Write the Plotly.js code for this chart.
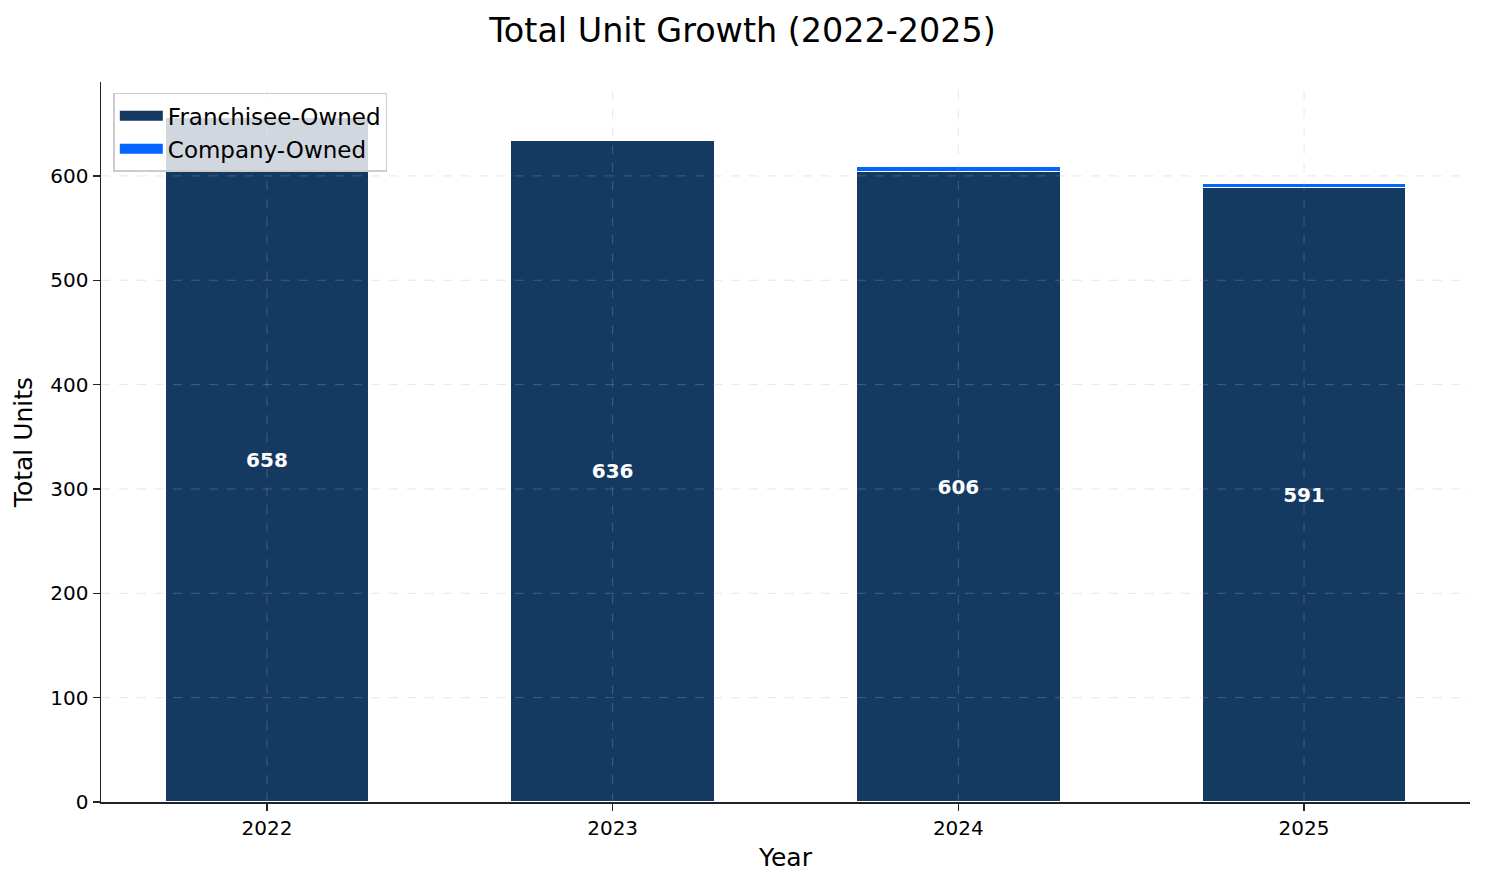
<!DOCTYPE html>
<html>
<head>
<meta charset="utf-8">
<script src="https://cdn.plot.ly/plotly-3.0.1.min.js"></script>
<style>
  html, body { margin: 0; padding: 0; background: #fff; }
  #chart { width: 1485px; height: 884px; }
</style>
</head>
<body>
<div id="chart"></div>
<script>
// values
const years = ['2022', '2023', '2024', '2025'];
const franchiseeOwned = [656, 634, 604, 589];
const companyOwned = [0, 0, 5, 4];
const totalLabels = ['658', '636', '606', '591'];
const yTicks = [0, 100, 200, 300, 400, 500, 600];

const navy = '#153a62';
const blue = '#0066ff';
const font = 'DejaVu Sans, sans-serif';
const gridColor = 'rgba(175,175,175,0.3)';

const barBase = {
  type: 'bar',
  x: years,
  width: 0.59,
  hoverinfo: 'skip',
  showlegend: false,
};

const traces = [
  {
    ...barBase,
    name: 'Franchisee-Owned',
    y: franchiseeOwned,
    marker: { color: navy, line: { color: 'white', width: 1.2 } },
    text: totalLabels,
    textposition: 'inside',
    insidetextanchor: 'middle',
    textangle: 0,
    textfont: { color: 'white', size: 20, family: font, weight: 'bold' },
  },
  {
    ...barBase,
    name: 'Company-Owned',
    y: companyOwned,
    marker: { color: blue, line: { color: 'white', width: 1.2 } },
  },
  // legend-only entries so the swatches are wide bars like matplotlib's
  { type: 'scatter', mode: 'lines', x: [null], y: [null], name: 'Franchisee-Owned',
    line: { color: navy, width: 14 }, hoverinfo: 'skip' },
  { type: 'scatter', mode: 'lines', x: [null], y: [null], name: 'Company-Owned',
    line: { color: blue, width: 14 }, hoverinfo: 'skip' },
];

// dashed grid drawn on top of the bars, as in the reference
const gridLine = { color: gridColor, width: 1, dash: 'dash' };
const gridShapes = [
  ...years.map((yr, i) => ({
    type: 'line', layer: 'above', xref: 'x', yref: 'paper',
    x0: i, x1: i, y0: 0, y1: 1, line: gridLine,
  })),
  ...yTicks.slice(1).map(v => ({
    type: 'line', layer: 'above', xref: 'paper', yref: 'y',
    x0: 0, x1: 1, y0: v, y1: v, line: gridLine,
  })),
];

const axisStyle = {
  showline: true,
  linecolor: '#222',
  linewidth: 1.5,
  ticks: 'outside',
  ticklen: 7,
  tickwidth: 1.3,
  tickcolor: '#222',
  tickfont: { size: 20 },
  showgrid: false,
  zeroline: false,
  layer: 'above traces',
};

const layout = {
  width: 1485,
  height: 884,
  barmode: 'stack',
  paper_bgcolor: 'white',
  plot_bgcolor: 'white',
  font: { family: font, size: 20, color: '#000' },
  margin: { l: 101, r: 15, t: 82, b: 82, pad: 0 },
  title: {
    text: 'Total Unit Growth (2022-2025)',
    font: { size: 33.4, family: font, color: '#000' },
    x: 0.5,
    xanchor: 'center',
    y: 0.966,
    yanchor: 'middle',
  },
  xaxis: {
    ...axisStyle,
    type: 'category',
    range: [-0.48, 3.48],
    title: { text: 'Year', font: { size: 25 }, standoff: 10 },
  },
  yaxis: {
    ...axisStyle,
    range: [0, 690],
    tickvals: yTicks,
    title: { text: 'Total Units', font: { size: 25 }, standoff: 10 },
  },
  shapes: gridShapes,
  legend: {
    x: 0.009,
    y: 0.985,
    xanchor: 'left',
    yanchor: 'top',
    bgcolor: 'rgba(255,255,255,0.8)',
    bordercolor: '#cccccc',
    borderwidth: 1.5,
    font: { size: 23 },
    itemwidth: 43,
    traceorder: 'normal',
  },
  showlegend: true,
};

Plotly.newPlot('chart', traces, layout, { displayModeBar: false, staticPlot: true });
</script>
</body>
</html>
